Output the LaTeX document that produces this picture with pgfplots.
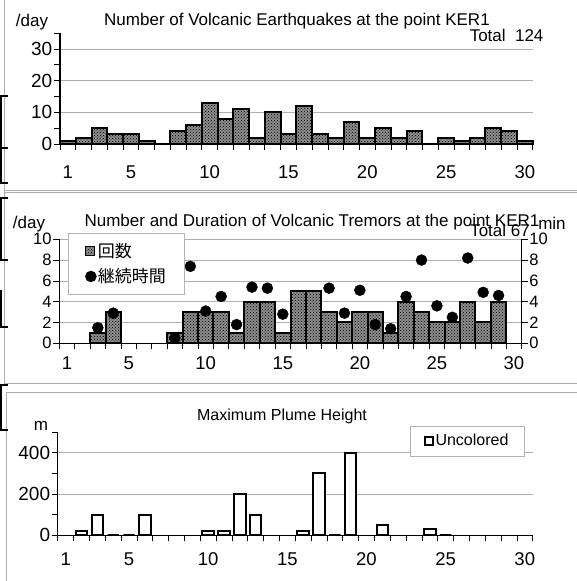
\documentclass[border=0pt]{standalone}
\usepackage{pgfplots}
\pgfplotsset{compat=1.18}
\usetikzlibrary{patterns}
\usepackage{fontspec}
\setmainfont{Liberation Sans}
\newfontfamily\cjk{Noto Sans CJK JP}
\definecolor{barfill}{RGB}{140,140,140}
\definecolor{framegray}{RGB}{175,175,175}
\definecolor{gridgray}{RGB}{175,175,175}
\newcommand{\fs}[1]{\fontsize{#1}{#1}\selectfont}
\pgfplotsset{
  common/.style={scale only axis, anchor=south west, xmin=0.5, xmax=30.5,
    enlargelimits=false,
    tick align=outside, major tick length=6pt, minor tick length=6pt,
    tick style={black, line width=0.7pt},
    axis line style={black, line width=1.3pt},
    xtick={0.5,1.5,...,30.5}, xticklabels={},
    extra x ticks={1,5,10,15,20,25,30},
    extra x tick labels={1,5,10,15,20,25,30},
    tick label style={font=\fs{18.5}},
    /pgf/number format/assume math mode=true,
    yticklabel style={inner xsep=1.5pt, font=\fs{19}},
    ymajorgrids, major grid style={gridgray, line width=0.6pt},
    clip=false,
  },
  hatchbar/.style={fill=barfill, draw=black, line width=2pt,
    postaction={pattern=crosshatch dots, pattern color=black}},
  barlegend/.style={legend image code/.code={\draw[##1, line width=1.2pt] (0pt,-4.5pt) rectangle (9pt,4.5pt);}},
  dotlegend/.style={legend image code/.code={\draw[##1] plot coordinates {(5pt,0pt)};}},
  openlegend/.style={legend image code/.code={\draw[black, fill=white, line width=2pt] (0pt,-4pt) rectangle (8pt,4pt);}},
}
\begin{document}
\begin{tikzpicture}[x=1pt,y=1pt]
\path[use as bounding box] (0,0) rectangle (577,581);
% frame lines
\draw[framegray, line width=1pt] (4,581) -- (4,197);
\draw[framegray, line width=1pt] (4,390.5) -- (577,390.5);
\draw[framegray, line width=1pt] (4,388) -- (577,388);
\draw[framegray, line width=1pt] (4,197) -- (577,197);
\draw[framegray, line width=1pt] (6,188) -- (577,188);
\draw[framegray, line width=1pt] (6,188) -- (6,0);
% black edge artifacts
\draw[black, line width=2pt] (8,485) -- (1,485) -- (1,433) -- (8,433);
\draw[black, line width=2pt] (1,433) -- (1,398) -- (8,398);
\draw[black, line width=2pt] (8,383) -- (1,383) -- (1,321) -- (8,321);
\draw[black, line width=2pt] (1,291) -- (1,254) -- (8,254);
\draw[black, line width=2pt] (8,196) -- (1,196) -- (1,151) -- (8,151);
% titles and texts
\node[font=\fs{17}] at (297,560) {Number of Volcanic Earthquakes at the point KER1};
\node[font=\fs{17}, anchor=east] at (547,545.5) {Total\ \ 124};
\node[font=\fs{17}] at (32,559) {/day};
\node[font=\fs{17}] at (312,359) {Number and Duration of Volcanic Tremors at the point KER1};
\node[font=\fs{17}] at (500,351) {Total 67};
\node[font=\fs{17}] at (552,358) {min};
\node[font=\fs{17}] at (29,357) {/day};
\node[font=\fs{16}] at (282,165) {Maximum Plume Height};
\node[font=\fs{17}] at (41,155) {m};

% ---------- top: earthquakes ----------
\begin{axis}[common, at={(60pt,437pt)}, width=472.7pt, height=111pt,
  ymin=0, ymax=35, ytick={0,10,20,30}, minor ytick={5,15,25,35},
  axis lines*=left, ybar, bar width=1,
  extra x tick style={major tick length=0pt, xticklabel style={yshift=-18pt}}]
\addplot[hatchbar] coordinates {(1,1)(2,2)(3,5)(4,3)(5,3)(6,1)(8,4)(9,6)(10,13)(11,8)(12,11)(13,2)(14,10)(15,3)(16,12)(17,3)(18,2)(19,7)(20,2)(21,5)(22,2)(23,4)(25,2)(26,1)(27,2)(28,5)(29,4)(30,1)};
\end{axis}

% ---------- middle: tremors ----------
\begin{axis}[common, at={(59.3pt,237.7pt)}, width=462.4pt, height=104pt,
  ymin=0, ymax=10, ytick={0,2,...,10},
  axis x line*=bottom, axis y line*=left,
  yticklabel style={font=\fs{16.5}},
  extra x tick style={major tick length=0pt, xticklabel style={yshift=-10pt}},
  legend style={at={(0.019,1.06)}, anchor=north west, draw=gray!60, fill=white,
    font=\cjk\fs{17}, legend cell align=left, row sep=7pt,
    inner xsep=17pt, inner ysep=8pt, nodes={inner sep=1.5pt}}]
\addplot[ybar, bar width=1, hatchbar, barlegend]
  coordinates {(3,1)(4,3)(8,1)(9,3)(10,3)(11,3)(12,1)(13,4)(14,4)(15,1)(16,5)(17,5)(18,3)(19,2)(20,3)(21,3)(22,1)(23,4)(24,3)(25,2)(26,2)(27,4)(28,2)(29,4)};
\addlegendentry{回数}
\addplot[only marks, mark=*, mark size=5.5pt, black, dotlegend]
  coordinates {(3,1.5)(4,2.9)(8,0.5)(9,7.4)(10,3.1)(11,4.5)(12,1.8)(13,5.4)(14,5.3)(15,2.8)(18,5.3)(19,2.9)(20,5.1)(21,1.8)(22,1.4)(23,4.5)(24,8.0)(25,3.6)(26,2.5)(27,8.2)(28,4.9)(29,4.6)};
\addlegendentry{継続時間}
\end{axis}
\begin{axis}[scale only axis, anchor=south west, at={(59.3pt,237.7pt)}, width=462.4pt, height=104pt,
  xmin=0.5, xmax=30.5, ymin=0, ymax=10, ytick={0,2,...,10},
  axis x line=none, axis y line*=right,
  tick align=outside, major tick length=6pt,
  tick style={black, line width=0.7pt},
  axis line style={black, line width=1.3pt},
  yticklabel style={font=\fs{16.5}, inner xsep=1.5pt},
  /pgf/number format/assume math mode=true]
\end{axis}

% ---------- bottom: plume ----------
\begin{axis}[common, at={(57.8pt,45.7pt)}, width=474.9pt, height=103.3pt,
  ymin=0, ymax=500, ytick={0,200,400}, minor ytick={100,300,500},
  axis lines*=left, ybar, bar width=0.72,
  extra x tick style={major tick length=0pt, xticklabel style={yshift=-14pt}},
  legend style={at={(0.982,1.061)}, anchor=north east, draw=gray!60, fill=white,
    font=\fs{16}, inner xsep=14pt, inner ysep=7pt, nodes={inner sep=1.5pt}}]
\addplot[fill=white, draw=black, line width=2pt, openlegend]
  coordinates {(2,20)(3,100)(4,0)(5,0)(6,100)(10,20)(11,20)(12,200)(13,100)(16,20)(17,300)(18,0)(19,400)(21,50)(24,30)(25,0)};
\addlegendentry{Uncolored}
\end{axis}
\end{tikzpicture}
\end{document}
